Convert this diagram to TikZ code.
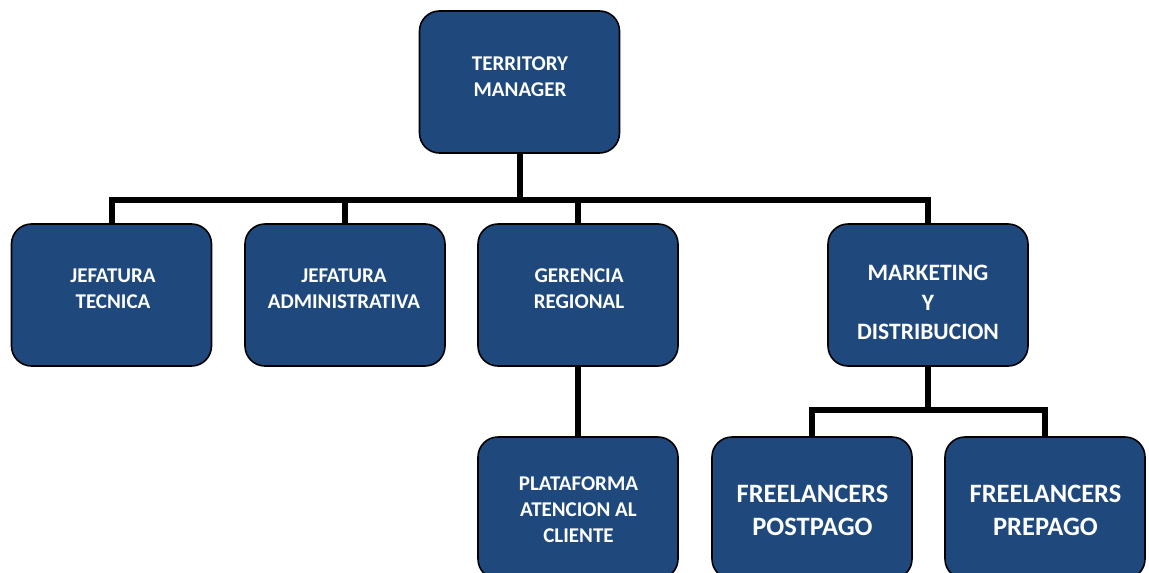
\documentclass[tikz,border=0pt]{standalone}
\usepackage{fontspec}
\setmainfont{Carlito}
\definecolor{boxblue}{RGB}{31,73,125}
\tikzset{
  unit/.style={draw=black, line width=1.6pt, fill=boxblue, rounded corners=20pt,
    minimum width=200pt, minimum height=142pt, inner sep=0pt},
  caption/.style={text=white, align=center, inner sep=0pt,
    font=\bfseries\fontsize{21}{26}\selectfont},
  bigcaption/.style={caption, font=\bfseries\fontsize{26.5}{33}\selectfont},
  link/.style={line width=6pt, line join=miter}
}

\begin{document}
\begin{tikzpicture}[x=1pt,y=-1pt]
    \useasboundingbox (0,0) rectangle (1149,573);

    % boxes
    \foreach \n/\x/\y in {tm/519.5/82, jt/111.5/295, ja/345/295, gr/578/295, md/928/295,
                         pac/578/508, fpo/812/508, fpr/1045/508}
    \node[unit] (\n) at (\x,\y) {};

    % connector rails
    \coordinate (bar) at (520,200);
    \coordinate (subbar) at (928,410);

    % connectors
    \draw[link] (tm.south) -- (tm.south |- bar);
    \draw[link] (jt.north) -- (jt.north |- bar) -- (md.north |- bar) -- (md.north);
    \foreach \n in {ja,gr}
    \draw[link] (\n.north) -- (\n.north |- bar);
    \draw[link] (gr.south) -- (pac.north);
    \draw[link] (md.south) -- (md.south |- subbar);
    \draw[link] (fpo.north) -- (fpo.north |- subbar) -- (fpr.north |- subbar) -- (fpr.north);

    % labels
    \node[caption] (tm-t) at (520,77) {TERRITORY\\MANAGER};
    \node[caption] (jt-t) at (113,289) {JEFATURA\\TECNICA};
    \node[caption] (ja-t) at (344,289) {JEFATURA\\ADMINISTRATIVA};
    \node[caption] (gr-t) at (579,289) {GERENCIA\\REGIONAL};
    \node[caption, font=\bfseries\fontsize{23.5}{29.5}\selectfont] (md-t) at (928,302.5) {MARKETING\\Y\\DISTRIBUCION};
    \node[caption] (pac-t) at (578.5,510) {PLATAFORMA\\ATENCION AL\\CLIENTE};
    \node[bigcaption] (fpo-t) at (812.5,510.5) {FREELANCERS\\POSTPAGO};
    \node[bigcaption] (fpr-t) at (1045.5,510.5) {FREELANCERS\\PREPAGO};
\end{tikzpicture}
\end{document}
